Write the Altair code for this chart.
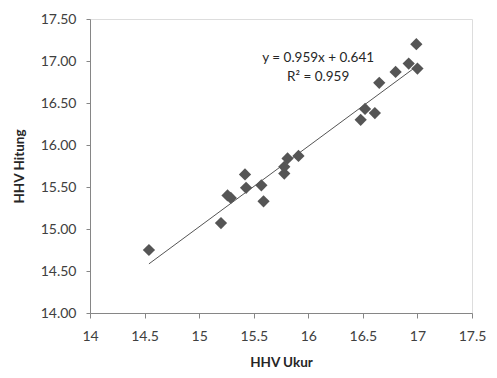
import altair as alt
import pandas as pd

# measured HHV (x) vs calculated HHV (y)
hhv_ukur = [14.54, 15.20, 15.26, 15.29, 15.42, 15.43, 15.57, 15.59,
            15.78, 15.78, 15.81, 15.91, 16.48, 16.52, 16.61, 16.65,
            16.80, 16.92, 16.99, 17.00]
hhv_hitung = [14.75, 15.07, 15.40, 15.37, 15.65, 15.49, 15.52, 15.33,
              15.66, 15.74, 15.84, 15.87, 16.30, 16.43, 16.38, 16.74,
              16.87, 16.97, 17.20, 16.91]

slope = 0.959
intercept = 0.641
eq_lines = ["y = 0.959x + 0.641", "R² = 0.959"]
eq_x = [16.09, 16.09]
eq_y = [17.03, 16.81]

x_ticks = [14, 14.5, 15, 15.5, 16, 16.5, 17, 17.5]
y_ticks = [14.0, 14.5, 15.0, 15.5, 16.0, 16.5, 17.0, 17.5]

FONT = "Lato"

pts = pd.DataFrame({"x": hhv_ukur, "y": hhv_hitung})
xmin, xmax = min(hhv_ukur), max(hhv_ukur)
trend = pd.DataFrame({"x": [xmin, xmax],
                      "y": [slope * xmin + intercept, slope * xmax + intercept]})
eq = pd.DataFrame({"t": eq_lines, "x": eq_x, "y": eq_y})

xscale = alt.Scale(domain=[14, 17.5], nice=False, zero=False)
yscale = alt.Scale(domain=[14, 17.5], nice=False, zero=False)

xaxis = alt.Axis(title="HHV Ukur", values=x_ticks, grid=False, format="~g",
                 domainColor="#868686", tickColor="#868686", tickSize=5,
                 labelFontSize=14, labelColor="#404040", labelPadding=11,
                 labelFont=FONT, titleFont=FONT, titleFontSize=13.5,
                 titleFontWeight="bold", titleColor="#262626", titlePadding=12,
                 labelFlush=False)
yaxis = alt.Axis(title="HHV Hitung", values=y_ticks, format=".2f", grid=False,
                 domainColor="#868686", tickColor="#868686", tickSize=4,
                 labelFontSize=14, labelColor="#404040", labelPadding=10,
                 labelFont=FONT, titleFont=FONT, titleFontSize=13.5,
                 titleFontWeight="bold", titleColor="#262626", titlePadding=14,
                 labelFlush=False)

points = alt.Chart(pts).mark_point(shape="diamond", filled=True, size=150,
                                   color="#555555", opacity=1).encode(
    x=alt.X("x:Q", scale=xscale, axis=xaxis),
    y=alt.Y("y:Q", scale=yscale, axis=yaxis),
)

line = alt.Chart(trend).mark_line(color="#555555", strokeWidth=1).encode(
    x=alt.X("x:Q", scale=xscale),
    y=alt.Y("y:Q", scale=yscale),
)

text = alt.Chart(eq).mark_text(font=FONT, fontSize=13.5, color="#262626").encode(
    x=alt.X("x:Q", scale=xscale),
    y=alt.Y("y:Q", scale=yscale),
    text="t:N",
)

chart = alt.layer(line, points, text).properties(
    width=382, height=294,
    autosize=alt.AutoSizeParams(type="none"),
    padding={"left": 82, "top": 11, "right": 17, "bottom": 57},
).configure_view(stroke=None).configure(background="white")

chart.save("out.html", embed_options={"renderer": "svg", "actions": False})
